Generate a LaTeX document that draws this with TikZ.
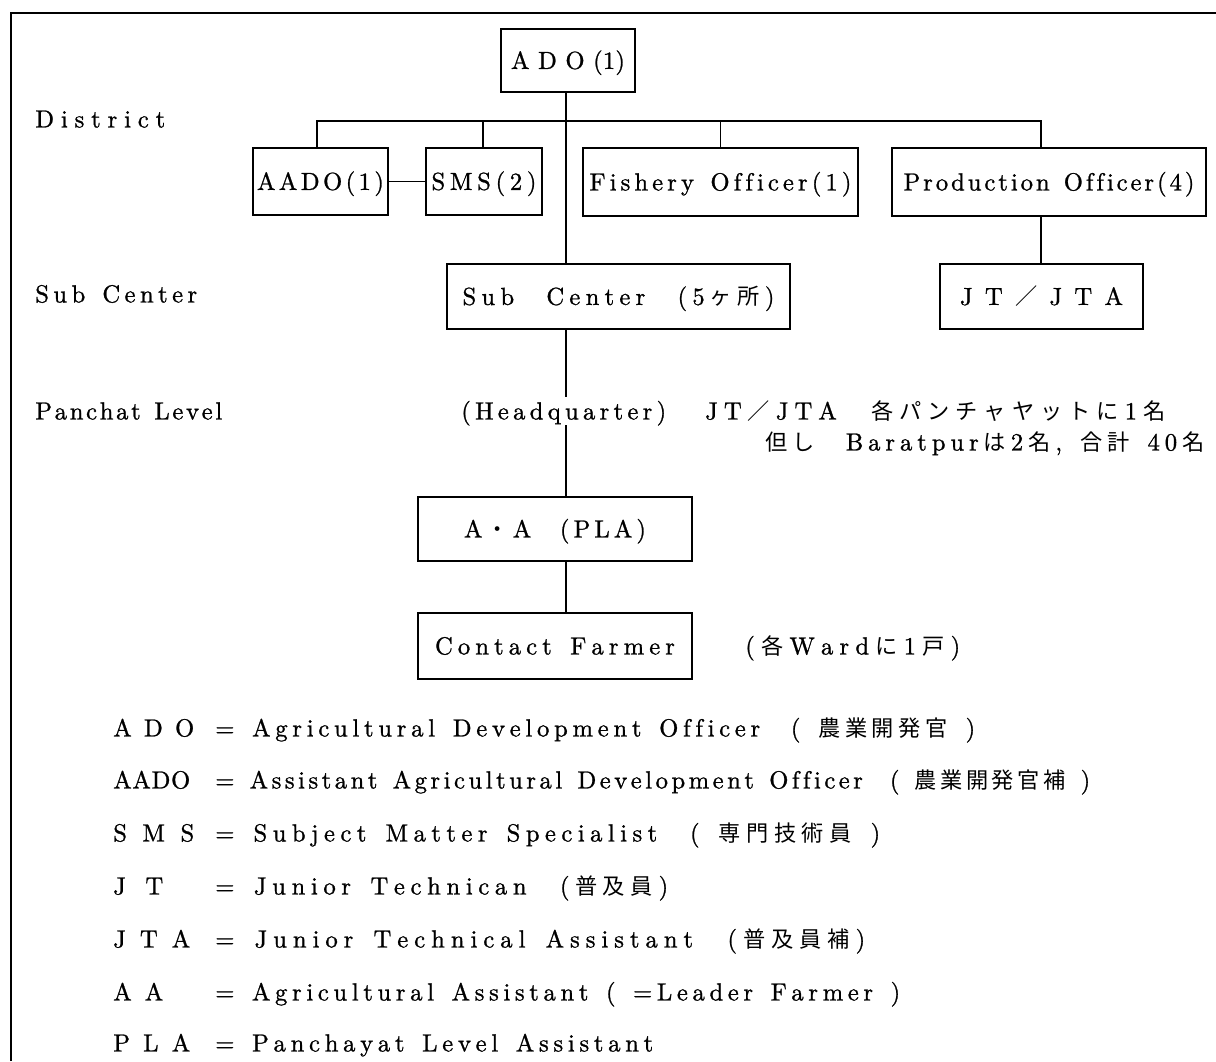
\documentclass[tikz,border=0pt]{standalone}
\usepackage{fontspec}
\setmainfont{lmroman10-regular.otf}[FakeBold=1.0]
\newfontfamily\jp{Noto Sans CJK JP}[Scale=0.9]
\makeatletter
\newcount\spn
\newdimen\spgap
\newdimen\sptarget
\def\spstop{spstop-marker}
\def\cntloop#1{\ifx#1\spstop\else\advance\spn by 1 \expandafter\cntloop\fi}
\def\sploop#1{\ifx#1\spstop\else\spchar#1\expandafter\sploop\fi}
\def\spchar#1{\ifx#1~\ \else\ifnum`#1>"2E7F\relax{\jp#1}\else#1\fi\fi\hskip\spgap}
\newcommand\spreadto[2]{%
  \begingroup
  \spn=0 \cntloop#2\spstop
  \spgap=0pt
  \setbox0\hbox{\sploop#2\spstop}%
  \sptarget=\dimexpr #1pt*3/4\relax
  \advance\sptarget by -\wd0
  \ifnum\spn>1 \divide\sptarget by \numexpr\spn-1\relax\fi
  \spgap=\sptarget
  \sploop#2\spstop\unskip
  \endgroup}
\makeatother
\begin{document}
\begin{tikzpicture}[x=0.75pt,y=-0.75pt,
  every node/.style={font=\fontsize{18.5}{22}\selectfont},
  box/.style={draw, line width=1.4pt, inner sep=0pt, text height=12.6pt, text depth=0pt},
  bx/.style 2 args={minimum width=#1*0.75pt, minimum height=#2*0.75pt},
  lbl/.style={inner sep=0pt, text height=12.6pt, text depth=0pt, anchor=west},
  ln/.style={line width=1.2pt},
  frame/.style={line width=1.5pt}]
\fill[white] (0,0) rectangle (1216,1061);
\useasboundingbox (0,0) rectangle (1216,1061);

% frame
\coordinate (ftl) at (11,13);
\coordinate (fbl) at (11,1061);
\coordinate (ftr) at (1216,13);
\draw[frame] (fbl) -- (ftl) -- (ftr);

% level labels
\node[lbl] (lbdist) at (35,119) {\spreadto{130}{District}};
\node[lbl] (lbsub) at (35,294) {\spreadto{162}{Sub~Center}};
\node[lbl] (lbpan) at (35,411) {\spreadto{187}{Panchat~Level}};

% boxes
\node[box, bx={134}{63}] (ado) at (568,60.5) {\spreadto{114}{A~D~O~(1)}};
\node[box, bx={135}{67}] (aado) at (320.5,181.5) {\spreadto{127}{AADO(1)}};
\node[box, bx={116}{67}] (sms) at (484,181.5) {\spreadto{105}{SMS(2)}};
\node[box, bx={275}{68}] (fish) at (720.5,182) {\spreadto{262}{Fishery~Officer(1)}};
\node[box, bx={314}{68}] (prod) at (1049,182) {\spreadto{291}{Production~Officer(4)}};
\node[box, bx={343}{65}] (sub) at (618.5,296.5) {\spreadto{312}{Sub~~Center~~(5ヶ所)}};
\node[box, bx={203}{65}] (jt) at (1041.5,296.5) {\spreadto{163}{JT／JTA}};
\node[box, bx={274}{64}] (aa) at (555,529) {\spreadto{182}{A・A~~(PLA)}};
\node[box, bx={274}{66}] (cf) at (555,646) {\spreadto{240}{Contact~Farmer}};

% free texts
\node[lbl, inner ysep=4pt] (hq) at (461,411) {\spreadto{205}{(Headquarter)}};
\node[lbl] (note1) at (705,411) {\spreadto{460}{JT／JTA~~各パンチャヤットに1名}};
\node[lbl] (note2) at (765,442) {\spreadto{439}{但し~~Baratpurは2名,~合計~40名}};
\node[lbl] (ward) at (745,646) {\spreadto{215}{(各Wardに1戸)}};

% connectors
\coordinate (spine) at (566,0);
\coordinate (bl) at (317,121);
\coordinate (br) at (1041,121);
\draw[ln] (ado.south -| spine) -- (sub.north -| spine);
\draw[ln] (sub.south -| spine) -- (hq.north -| spine);
\draw[ln] (hq.south -| spine) -- (aa.north -| spine);
\draw[ln] (aa.south -| spine) -- (cf.north -| spine);
\draw[ln] (aado.north -| bl) -- (bl) -- (br) -- (prod.north -| br);
\draw[ln] (sms.north -| 483,0) -- (bl -| 483,0);
\draw[ln] (fish.north) -- (fish.north |- bl);
\draw[ln] (prod.south -| br) -- (jt.north -| br);
\draw[ln] (aado.east) -- (sms.west);

% legend
\node[lbl] (a1) at (113,728) {\spreadto{81}{A~D~O}};
\node[lbl] (d1) at (215,728) {\spreadto{760}{=~Agricultural~Development~Officer~~(~農業開発官~)}};
\node[lbl] (a2) at (113,780) {\spreadto{77}{AADO}};
\node[lbl] (d2) at (215,780) {\spreadto{875}{=~Assistant~Agricultural~Development~Officer~~(~農業開発官補~)}};
\node[lbl] (a3) at (113,833) {\spreadto{81}{S~M~S}};
\node[lbl] (d3) at (215,833) {\spreadto{665}{=~Subject~Matter~Specialist~~(~専門技術員~)}};
\node[lbl] (a4) at (113,886) {\spreadto{50}{J~~T}};
\node[lbl] (d4) at (215,886) {\spreadto{453}{=~Junior~Technican~~(普及員)}};
\node[lbl] (a5) at (113,939) {\spreadto{77}{J~T~A}};
\node[lbl] (d5) at (215,939) {\spreadto{650}{=~Junior~Technical~Assistant~~(普及員補)}};
\node[lbl] (a6) at (113,992) {\spreadto{50}{A~~A}};
\node[lbl] (d6) at (215,992) {\spreadto{685}{=~Agricultural~Assistant~(~=Leader~Farmer~)}};
\node[lbl] (a7) at (113,1043) {\spreadto{77}{P~L~A}};
\node[lbl] (d7) at (215,1043) {\spreadto{438}{=~Panchayat~Level~Assistant}};
\end{tikzpicture}
\end{document}
